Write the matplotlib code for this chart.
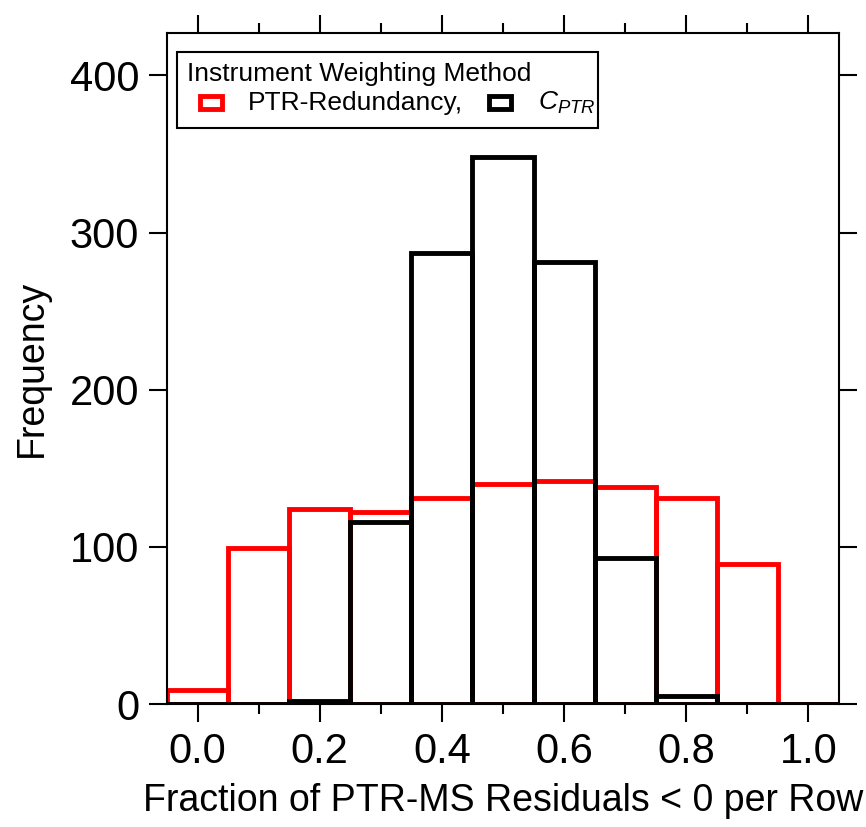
import matplotlib
matplotlib.use("Agg")
import matplotlib.pyplot as plt
from matplotlib.patches import Rectangle
from matplotlib.ticker import MultipleLocator

plt.rcParams['font.family'] = ['Liberation Sans', 'DejaVu Sans']
plt.rcParams['mathtext.fontset'] = 'custom'
plt.rcParams['mathtext.rm'] = 'Liberation Sans'
plt.rcParams['mathtext.it'] = 'Liberation Sans:italic'

bin_centers = [0.0, 0.1, 0.2, 0.3, 0.4, 0.5, 0.6, 0.7, 0.8, 0.9, 1.0]
ptr_redundancy = [9, 99, 124, 122, 131, 140, 142, 138, 131, 89, 0]
c_ptr = [0, 0, 2, 116, 287, 348, 281, 93, 5, 0, 0]
bin_width = 0.1
legend_title = "Instrument Weighting Method"
series_labels = ["PTR-Redundancy,", "$C_{PTR}$"]
series_colors = ['#ff0000', 'black']

fig = plt.figure(figsize=(8.66, 8.27), dpi=100)
ax = fig.add_axes([167/866, 1-704/827, (839-167)/866, (704-33)/827])

ax.bar(bin_centers, ptr_redundancy, width=bin_width, fill=False,
       edgecolor=series_colors[0], linewidth=3.5, zorder=2)
ax.bar(bin_centers, c_ptr, width=bin_width, fill=False,
       edgecolor=series_colors[1], linewidth=3.5, zorder=3)

ax.set_xlim(-0.05, 1.05)
ax.set_ylim(0, 427)
ax.xaxis.set_major_locator(MultipleLocator(0.2))
ax.xaxis.set_minor_locator(MultipleLocator(0.1))
ax.yaxis.set_major_locator(MultipleLocator(100))
ax.xaxis.set_major_formatter(matplotlib.ticker.FormatStrFormatter('%.1f'))

ax.tick_params(which='both', direction='out', top=True, right=True, width=1.5)
ax.tick_params(which='major', length=13, labelsize=30, pad=7)
ax.tick_params(which='minor', length=7)
ax.tick_params(axis='y', which='minor', left=False, right=False)
for s in ax.spines.values():
    s.set_linewidth(1.5)

ax.set_xlabel("Fraction of PTR-MS Residuals < 0 per Row", fontsize=27, labelpad=8)
ax.set_ylabel("Frequency", fontsize=27, labelpad=14)

# legend (drawn in axes coordinates)
T = ax.transAxes
frame = Rectangle((0.0149, 0.8584), 0.6265, 0.1133, transform=T, fill=True,
                  facecolor='white', edgecolor='black', linewidth=1.5, zorder=5)
ax.add_patch(frame)
ax.text(0.0298, 0.9285, legend_title, transform=T, fontsize=19,
        ha='left', va='baseline', zorder=6)
hw, hh = 0.0327, 0.0194
for cx, col in zip([0.0655, 0.4955], series_colors):
    ax.add_patch(Rectangle((cx - hw/2, 0.8964 - hh/2), hw, hh, transform=T,
                           facecolor='white', edgecolor=col, linewidth=3.5,
                           zorder=6))
for tx, lab in zip([0.1205, 0.5521], series_labels):
    ax.text(tx, 0.8852, lab, transform=T, fontsize=19, ha='left',
            va='baseline', zorder=6)

fig.savefig("out.png", dpi=100)
